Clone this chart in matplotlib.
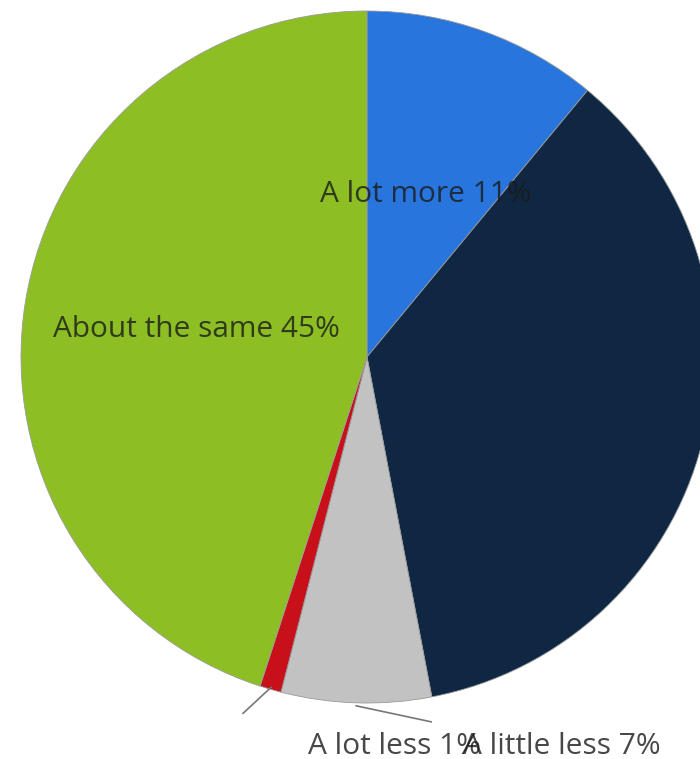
import matplotlib.pyplot as plt
import numpy as np

plt.rcParams['font.family'] = ['Open Sans', 'DejaVu Sans']

labels = ['A lot more', 'A little more', 'A little less', 'A lot less', 'About the same']
values = [11, 36, 7, 1, 45]
colors = ['#2876dd', '#0f2742', '#c2c2c2', '#c8101a', '#8dbf24']

# pie geometry in pixel units of the 700x759 canvas (y up)
cx, cy, r = 367, 402, 346

fig = plt.figure(figsize=(7, 7.59), dpi=100)
ax = fig.add_axes([0, 0, 1, 1])

wedges, _ = ax.pie(values, colors=colors, startangle=90, counterclock=False,
                   center=(cx, cy), radius=r,
                   wedgeprops=dict(edgecolor='#9a9a9a', linewidth=0.6))
ax.set_xlim(0, 700)
ax.set_ylim(0, 759)
ax.set_aspect('equal')
ax.axis('off')

fs = 21.5
txt = dict(fontsize=fs, color='#1a1a1a', alpha=0.8, va='center')

# big slices get their label inside at half radius
# (the dark one's label is drawn dark on dark, so it is left out)
for w, lab, v in zip(wedges, labels, values):
    if v < 10 or lab == 'A little more':
        continue
    mid = np.deg2rad((w.theta1 + w.theta2) / 2)
    x = cx + 0.5 * r * np.cos(mid)
    y = cy + 0.5 * r * np.sin(mid)
    ax.text(x, y, f'{lab} {v}%', ha='center', **txt)

# small slices: leader line + label under the pie
offsets = {'A little less': (75, -16), 'A lot less': (-28, -26)}
label_x = {'A little less': 463, 'A lot less': 308}
for w, lab, v in zip(wedges, labels, values):
    if v >= 10:
        continue
    mid = np.deg2rad((w.theta1 + w.theta2) / 2)
    x0 = cx + (r - 2) * np.cos(mid)
    y0 = cy + (r - 2) * np.sin(mid)
    if lab == 'A little less':
        y0 -= 5
    dx, dy = offsets[lab]
    ax.plot([x0, x0 + dx], [y0, y0 + dy], color='#777777', lw=1.2)
    ax.text(label_x[lab], 13, f'{lab} {v}%', ha='left', **txt)

fig.savefig('out.png', dpi=100)
